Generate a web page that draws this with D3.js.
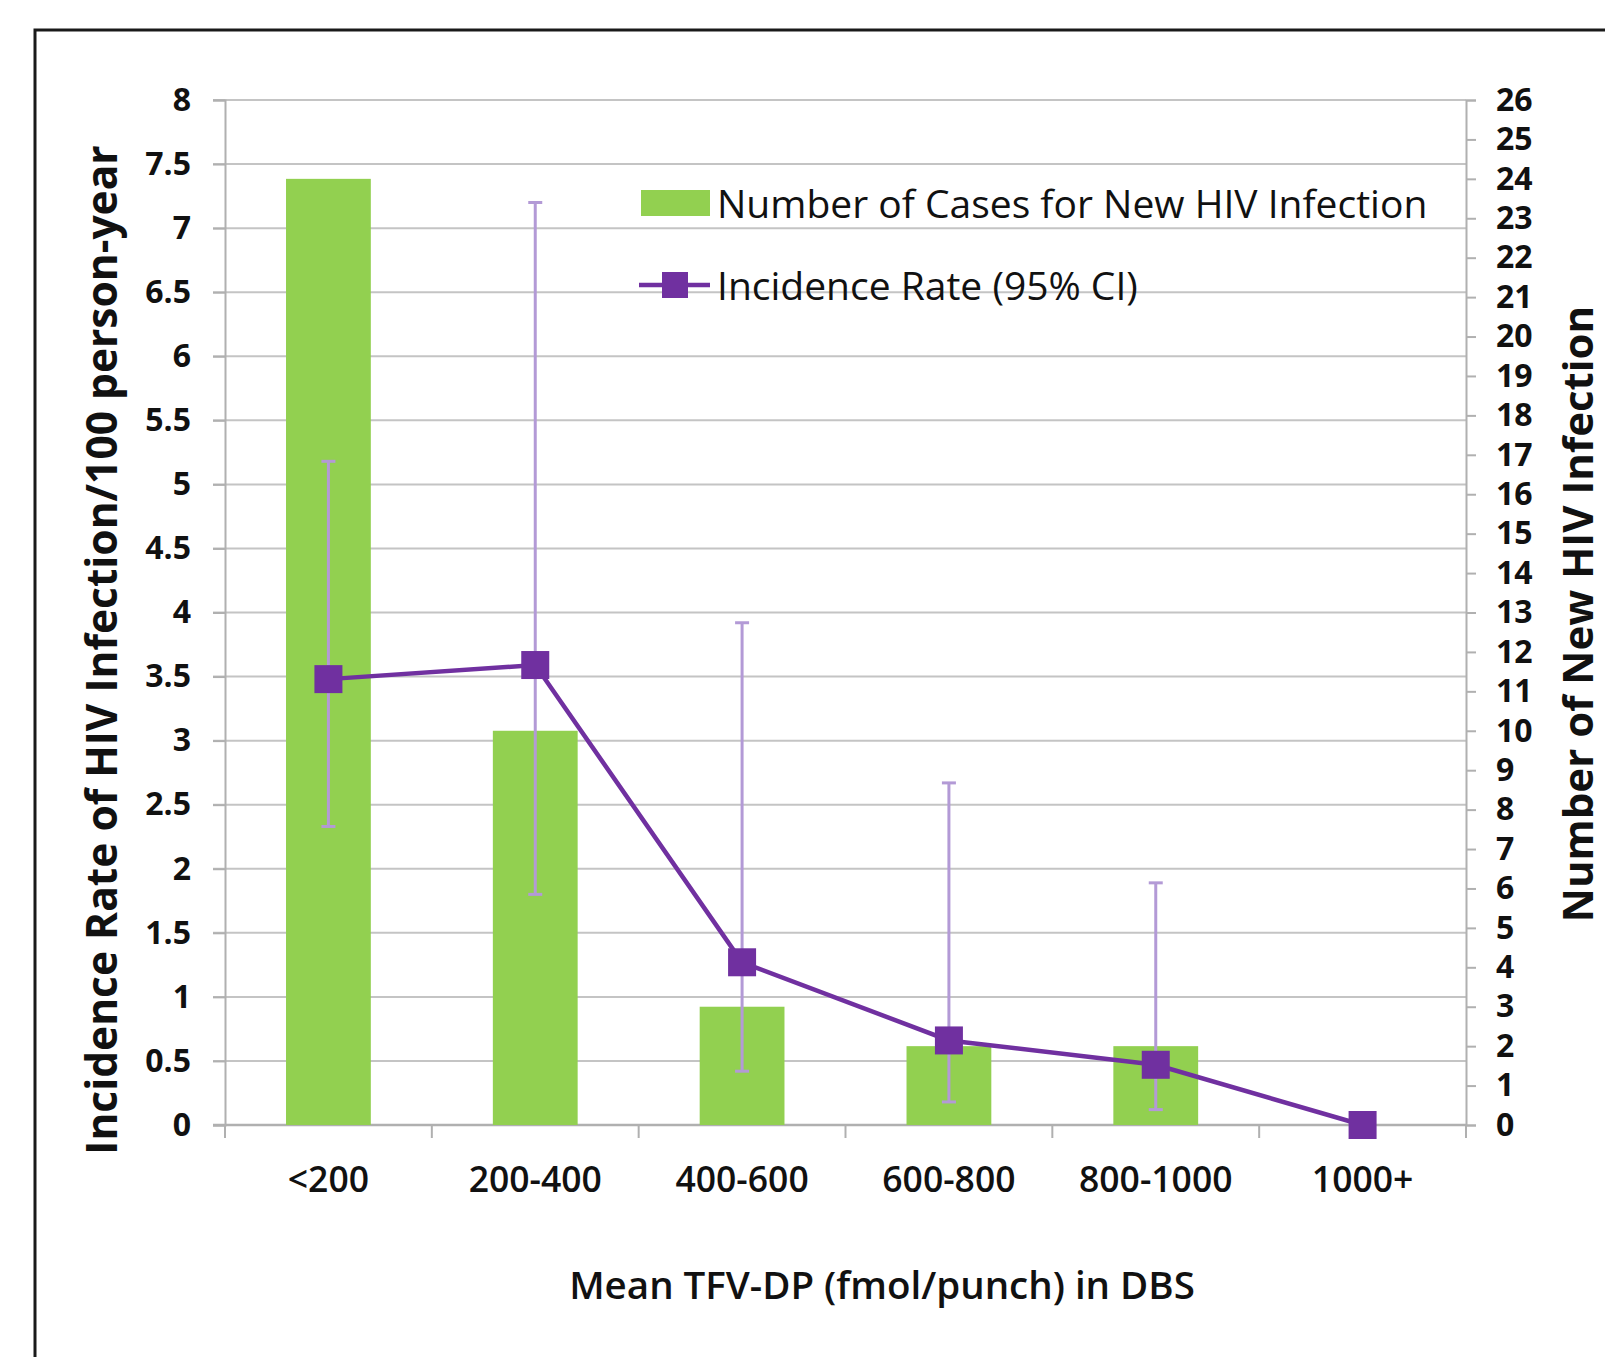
<!DOCTYPE html>
<html>
<head>
<meta charset="utf-8">
<script src="https://cdn.jsdelivr.net/npm/d3@7"></script>
<style>
  html, body { margin: 0; padding: 0; background: #fff; }
  svg { display: block; }
  text { font-family: "Open Sans", "Noto Sans", sans-serif; fill: #111; }
</style>
</head>
<body>
<svg id="chart" width="1605" height="1357"></svg>
<script>
// ---- data ----
const categories = ["<200", "200-400", "400-600", "600-800", "800-1000", "1000+"];
const cases = [24, 10, 3, 2, 2, 0];               // right axis: number of new HIV infections
const rate = [3.48, 3.59, 1.27, 0.66, 0.47, 0];    // left axis: incidence rate /100 person-year
const ciLow = [2.33, 1.80, 0.42, 0.18, 0.12, null];
const ciHigh = [5.18, 7.20, 3.92, 2.67, 1.89, null];
const leftTicks = [0, 0.5, 1, 1.5, 2, 2.5, 3, 3.5, 4, 4.5, 5, 5.5, 6, 6.5, 7, 7.5, 8];
const rightTicks = d3.range(0, 27);
const legendLabels = ["Number of Cases for New HIV Infection", "Incidence Rate (95% CI)"];
const titles = {
  left: "Incidence Rate of HIV Infection/100 person-year",
  right: "Number of New HIV Infection",
  x: "Mean TFV-DP (fmol/punch) in DBS"
};

// ---- layout ----
const L = 225, R = 1466, T = 100, B = 1125;
const svg = d3.select("#chart");

const x = d3.scaleBand().domain(categories).range([L, R]).padding(0);
const yL = d3.scaleLinear().domain([0, 8]).range([B, T]);
const yR = d3.scaleLinear().domain([0, 26]).range([B, T]);

const gridColor = "#c4c4c4";
const axisColor = "#b0b0b0";

// outer frame
svg.append("rect")
  .attr("x", 35).attr("y", 30).attr("width", 1650).attr("height", 1400)
  .attr("fill", "none").attr("stroke", "#1a1a1a").attr("stroke-width", 3);

// gridlines
svg.append("g").selectAll("line").data(leftTicks.filter(d => d > 0)).join("line")
  .attr("x1", L - 12).attr("x2", R)
  .attr("y1", d => yL(d)).attr("y2", d => yL(d))
  .attr("stroke", gridColor).attr("stroke-width", 2);

// left axis
const gLeft = svg.append("g").attr("transform", `translate(${L},0)`)
  .call(d3.axisLeft(yL).tickValues(leftTicks).tickSize(12).tickPadding(22)
    .tickFormat(d => String(d)));
gLeft.select(".domain").attr("stroke", axisColor).attr("stroke-width", 2);
gLeft.selectAll(".tick line").attr("stroke", axisColor).attr("stroke-width", 2);
gLeft.selectAll(".tick text").attr("font-size", 32).attr("font-weight", 700)
  .attr("fill", "#111").attr("font-family", "'Open Sans', sans-serif");

// right axis
const gRight = svg.append("g").attr("transform", `translate(${R},0)`)
  .call(d3.axisRight(yR).tickValues(rightTicks).tickSize(10).tickPadding(20));
gRight.select(".domain").attr("stroke", axisColor).attr("stroke-width", 2);
gRight.selectAll(".tick line").attr("stroke", axisColor).attr("stroke-width", 2);
gRight.selectAll(".tick text").attr("font-size", 32).attr("font-weight", 700)
  .attr("fill", "#111").attr("font-family", "'Open Sans', sans-serif");

// bottom axis
svg.append("line").attr("x1", L - 12).attr("x2", R).attr("y1", B).attr("y2", B)
  .attr("stroke", axisColor).attr("stroke-width", 2.5);
const boundaries = categories.map(c => x(c)).concat([x(categories[categories.length - 1]) + x.bandwidth()]);
svg.append("g").selectAll("line").data(boundaries).join("line")
  .attr("x1", d => d).attr("x2", d => d).attr("y1", B).attr("y2", B + 13)
  .attr("stroke", axisColor).attr("stroke-width", 2);
const gBottom = svg.append("g").attr("transform", `translate(0,${B})`)
  .call(d3.axisBottom(x).tickSize(0).tickPadding(0));
gBottom.select(".domain").remove();
gBottom.selectAll(".tick text").attr("y", 67).attr("dy", 0)
  .attr("font-size", 35.5).attr("font-weight", 600).attr("fill", "#111")
  .attr("font-family", "'Open Sans', sans-serif");

// bars
const barW = x.bandwidth() * 0.41;
svg.append("g").selectAll("rect").data(categories).join("rect")
  .attr("x", (c) => x(c) + x.bandwidth() / 2 - barW / 2)
  .attr("width", barW)
  .attr("y", (c, i) => yR(cases[i]))
  .attr("height", (c, i) => B - yR(cases[i]))
  .attr("fill", "#92d050");

const cx = c => x(c) + x.bandwidth() / 2;

// error bars
const errColor = "#b39ad6";
const errData = categories.map((c, i) => ({ c, lo: ciLow[i], hi: ciHigh[i] })).filter(d => d.lo !== null);
const gErr = svg.append("g");
gErr.selectAll("line.v").data(errData).join("line").attr("class", "v")
  .attr("x1", d => cx(d.c)).attr("x2", d => cx(d.c))
  .attr("y1", d => yL(d.lo)).attr("y2", d => yL(d.hi))
  .attr("stroke", errColor).attr("stroke-width", 3);
gErr.selectAll("line.hi").data(errData).join("line").attr("class", "hi")
  .attr("x1", d => cx(d.c) - 7).attr("x2", d => cx(d.c) + 7)
  .attr("y1", d => yL(d.hi)).attr("y2", d => yL(d.hi))
  .attr("stroke", errColor).attr("stroke-width", 3);
gErr.selectAll("line.lo").data(errData).join("line").attr("class", "lo")
  .attr("x1", d => cx(d.c) - 7).attr("x2", d => cx(d.c) + 7)
  .attr("y1", d => yL(d.lo)).attr("y2", d => yL(d.lo))
  .attr("stroke", errColor).attr("stroke-width", 3);

// line
const purple = "#7030a0";
const line = d3.line().x((d, i) => cx(categories[i])).y(d => yL(d));
svg.append("path").datum(rate).attr("d", line)
  .attr("fill", "none").attr("stroke", purple).attr("stroke-width", 4.5);
const mk = 28;
svg.append("g").selectAll("rect").data(rate).join("rect")
  .attr("x", (d, i) => cx(categories[i]) - mk / 2)
  .attr("y", d => yL(d) - mk / 2)
  .attr("width", mk).attr("height", mk)
  .attr("fill", purple);

// legend
const lg = svg.append("g");
lg.append("rect").attr("x", 641).attr("y", 190).attr("width", 69).attr("height", 26).attr("fill", "#92d050");
lg.append("text").attr("x", 717).attr("y", 218).text(legendLabels[0])
  .attr("font-size", 39).attr("font-weight", 500);
lg.append("line").attr("x1", 639).attr("x2", 710).attr("y1", 285).attr("y2", 285)
  .attr("stroke", purple).attr("stroke-width", 4.5);
lg.append("rect").attr("x", 675 - 13).attr("y", 285 - 13).attr("width", 26).attr("height", 26).attr("fill", purple);
lg.append("text").attr("x", 717).attr("y", 300).text(legendLabels[1])
  .attr("font-size", 39).attr("font-weight", 500);

// axis titles
svg.append("text").attr("transform", "translate(117,650) rotate(-90)")
  .attr("text-anchor", "middle").attr("font-size", 42.5).attr("font-weight", 700)
  .text(titles.left);
svg.append("text").attr("transform", "translate(1593,614) rotate(-90)")
  .attr("text-anchor", "middle").attr("font-size", 42).attr("font-weight", 700)
  .text(titles.right);
svg.append("text").attr("x", 882).attr("y", 1299)
  .attr("text-anchor", "middle").attr("font-size", 38.5).attr("font-weight", 600)
  .text(titles.x);
</script>
</body>
</html>
